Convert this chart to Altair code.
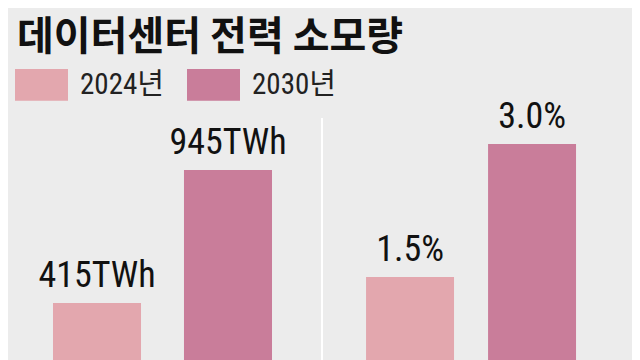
import altair as alt
import pandas as pd

# ---- data ----
years = ["2024년", "2030년"]
power_twh = [415, 945]
power_labels = ["415TWh", "945TWh"]
share_pct = [1.5, 3.0]
share_labels = ["1.5%", "3.0%"]
bar_colors = ["#e3a7ae", "#c97d9a"]

title_text = "데이터센터 전력 소모량"

df_power = pd.DataFrame({"year": years, "value": power_twh, "label": power_labels})
df_share = pd.DataFrame({"year": years, "value": share_pct, "label": share_labels})

H = 242
NUM_FONT = "Roboto Condensed, Roboto, Noto Sans CJK KR"

color = alt.Color(
    "year:N",
    scale=alt.Scale(domain=years, range=bar_colors),
    legend=alt.Legend(
        title=None,
        orient="none",
        legendX=7,
        legendY=-60,
        direction="horizontal",
        symbolType="M-1,-0.6H1V0.6H-1Z",
        symbolSize=2809,
        symbolStrokeWidth=0,
        symbolOpacity=1,
        labelFont=NUM_FONT,
        labelFontSize=29,
        labelColor="#222222",
        labelOffset=12,
        columnPadding=23,
        labelLimit=200,
    ),
)


def panel(df, domain, width, pi, po, align, divider=False):
    x = alt.X(
        "year:N",
        axis=None,
        sort=years,
        scale=alt.Scale(paddingInner=pi, paddingOuter=po, align=align),
    )
    y = alt.Y("value:Q", axis=None, scale=alt.Scale(domain=domain, zero=False, nice=False))
    bars = alt.Chart(df).mark_bar(clip=True).encode(x=x, y=y, color=color)
    text = alt.Chart(df).mark_text(
        baseline="alphabetic", dy=-16, font=NUM_FONT, fontSize=36, color="#111111"
    ).encode(x=x, y=y, text="label:N")
    layers = [bars, text]
    if divider:
        rule = alt.Chart(df.head(1)).mark_rule(color="white", strokeWidth=2).encode(
            x=alt.value(1), y=alt.value(0), y2=alt.value(H)
        )
        layers = [rule] + layers
    return alt.layer(*layers).properties(width=width, height=H)


left = panel(df_power, [187.7, 1152], 309, 0.328, 0.3435, 0.5)
right = panel(df_share, [0.564, 3.293], 311, 0.279, 0.414, 0.446, divider=True)

chart = (
    alt.hconcat(left, right, spacing=4)
    .resolve_scale(y="independent", x="independent")
    .properties(
        title=alt.TitleParams(
            title_text,
            anchor="start",
            font="Noto Sans CJK KR",
            fontSize=40,
            fontWeight="bold",
            color="#111111",
            offset=0,
            dx=9,
        ),
        padding={"left": 0, "top": 10, "right": 0, "bottom": 0},
    )
    .configure(background="#ececec")
    .configure_view(stroke=None)
)

chart.save("out.html", embed_options={"renderer": "svg", "actions": False})
